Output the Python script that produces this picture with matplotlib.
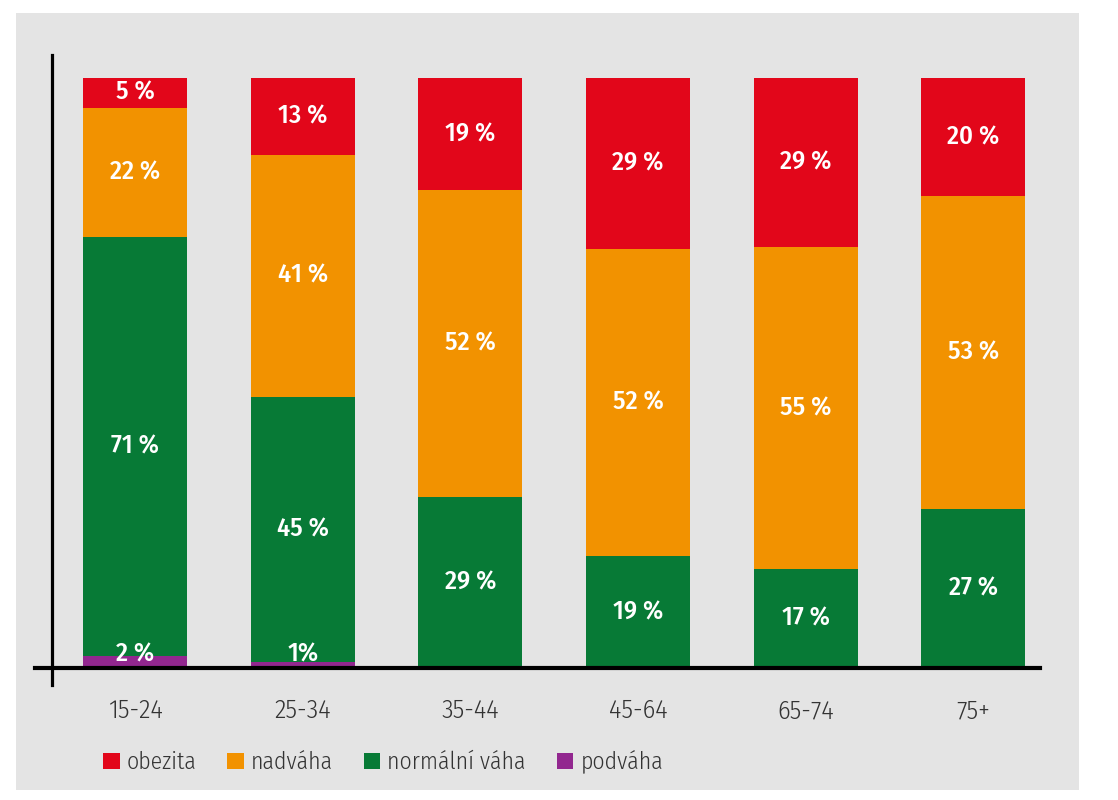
import matplotlib
matplotlib.use('Agg')
import matplotlib.pyplot as plt
from matplotlib.patches import Rectangle
from matplotlib.lines import Line2D
import numpy as np

# data (percent of each age group)
age_groups = ['15-24', '25-34', '35-44', '45-64', '65-74', '75+']
podvaha = [2, 1, 0, 0, 0, 0]
normalni = [71, 45, 29, 19, 17, 27]
nadvaha = [22, 41, 52, 52, 55, 53]
obezita = [5, 13, 19, 29, 29, 20]

series = [('podváha', podvaha, '#92278f'),
          ('normální váha', normalni, '#077a36'),
          ('nadváha', nadvaha, '#f29200'),
          ('obezita', obezita, '#e2061a')]
legend_order = ['obezita', 'nadváha', 'normální váha', 'podváha']

cond = ['Fira Sans Condensed', 'Roboto Condensed', 'Barlow Condensed', 'PT Sans Narrow', 'DejaVu Sans']

fig = plt.figure(figsize=(11.18, 8), dpi=100)
fig.patch.set_facecolor('white')
fig.patches.append(Rectangle((16 / 1118, 10 / 800), 1063 / 1118, 777 / 800, transform=fig.transFigure,
                             facecolor='#e4e4e4', edgecolor='none', zorder=-5))

ax = fig.add_axes([52 / 1118, 132 / 800, 988 / 1118, 613 / 800])
ax.set_facecolor('none')
ind = np.arange(len(age_groups))
width = 0.62
totals = np.sum([s[1] for s in series], axis=0)

bottom = np.zeros(len(age_groups))
handles = {}
for name, vals, col in series:
    h = np.array(vals) / totals * 100
    bars = ax.bar(ind, h, width, bottom=bottom, color=col, label=name, zorder=2)
    handles[name] = bars
    for i, v in enumerate(vals):
        if v == 0:
            continue
        if name == 'podváha':
            y = 2.3
        else:
            y = bottom[i] + h[i] / 2
        txt = '%d%%' % v if v == 1 else '%d %%' % v
        ax.text(ind[i], y, txt, ha='center', va='center', color='white', fontsize=19,
                family=cond, weight=500, zorder=3)
    bottom += h

ax.set_xlim(-0.495, 5.397)
ax.set_ylim(0, 103.9)
for sp in ax.spines.values():
    sp.set_visible(False)
ax.set_yticks([])
ax.set_xticks(ind)
ax.set_xticklabels(age_groups, fontsize=19, family=cond, weight=300, color='#333333')
ax.tick_params(axis='x', length=0, pad=22)

# axis lines extending past the corner
ax.add_line(Line2D([0, 0], [-17 / 613, 1], transform=ax.transAxes, color='black', lw=2.3,
                   clip_on=False, zorder=4))
ax.add_line(Line2D([-17 / 988, 1], [0, 0], transform=ax.transAxes, color='black', lw=3,
                   clip_on=False, zorder=4))

leg = ax.legend([handles[n] for n in legend_order], legend_order, loc='center left',
                bbox_to_anchor=(30 / 988, -94 / 613), ncol=4, frameon=False,
                prop={'family': cond, 'weight': 300, 'size': 17},
                handlelength=0.7, handleheight=0.7, handletextpad=0.3, columnspacing=1.3,
                labelcolor='#333333')

fig.savefig('out.png', dpi=100)
